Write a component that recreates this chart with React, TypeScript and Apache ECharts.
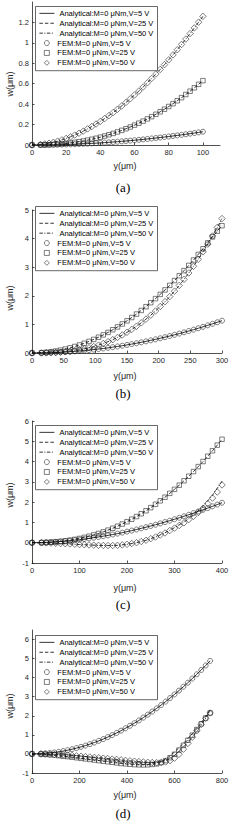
import React, { useEffect, useRef } from 'react';
import * as echarts from 'echarts';

const NAMES = [
  'Analytical:M=0 μNm,V=5 V',
  'Analytical:M=0 μNm,V=25 V',
  'Analytical:M=0 μNm,V=50 V',
  'FEM:M=0 μNm,V=5 V',
  'FEM:M=0 μNm,V=25 V',
  'FEM:M=0 μNm,V=50 V',
];
const TAGS = ['(a)', '(b)', '(c)', '(d)'];

// ---------- panel (a) ----------
const xA = [0,5,7.5,10,12.5,15,17.5,20,22.5,25,27.5,30,32.5,35,37.5,40,42.5,45,47.5,50,52.5,55,57.5,60,62.5,65,67.5,70,72.5,75,77.5,80,82.5,85,87.5,90,92.5,95,97.5,100];
const a5 = [0,0.0003,0.0007,0.0013,0.002,0.0029,0.004,0.0052,0.0066,0.0081,0.0098,0.0117,0.0137,0.0159,0.0183,0.0208,0.0235,0.0263,0.0293,0.0325,0.0358,0.0393,0.043,0.0468,0.0508,0.0549,0.0592,0.0637,0.0683,0.0731,0.0781,0.0832,0.0885,0.0939,0.0995,0.1053,0.1112,0.1173,0.1236,0.13];
const a25 = [0,0.0006,0.0016,0.0032,0.0053,0.008,0.0114,0.0155,0.0204,0.026,0.0324,0.0395,0.0475,0.0563,0.066,0.0766,0.088,0.1004,0.1137,0.1279,0.1431,0.1593,0.1764,0.1946,0.2136,0.234,0.2552,0.2772,0.3007,0.325,0.3504,0.377,0.4048,0.4333,0.4635,0.4945,0.5266,0.56,0.5941,0.63];
const a50 = [0,0.0049,0.0105,0.0178,0.0269,0.0377,0.0501,0.0642,0.0798,0.097,0.1156,0.1358,0.1575,0.1807,0.2053,0.2312,0.2589,0.2877,0.318,0.3496,0.3825,0.417,0.4528,0.4899,0.5281,0.5675,0.6088,0.6513,0.695,0.7398,0.7867,0.8339,0.8823,0.9327,0.9844,1.0372,1.0912,1.1463,1.2026,1.26];

// ---------- panel (b) ----------
const xB = [0,15,22.5,30,37.5,45,52.5,60,67.5,75,82.5,90,97.5,105,112.5,120,127.5,135,142.5,150,157.5,165,172.5,180,187.5,195,202.5,210,217.5,225,232.5,240,247.5,255,262.5,270,277.5,285,292.5,300];
const b5 = [0,0.0028,0.0064,0.0113,0.0177,0.0254,0.0346,0.0452,0.0572,0.0706,0.0855,0.1017,0.1194,0.1384,0.1589,0.1808,0.2041,0.2288,0.255,0.2825,0.3115,0.3418,0.3736,0.4068,0.4414,0.4774,0.5149,0.5537,0.594,0.6356,0.6787,0.7232,0.7691,0.8164,0.8652,0.9153,0.9669,1.0198,1.0742,1.13];
const b25 = [0,0.0113,0.0253,0.045,0.0703,0.1013,0.1378,0.18,0.2278,0.2813,0.3403,0.405,0.4753,0.5513,0.6328,0.72,0.8128,0.9113,1.0153,1.125,1.2403,1.3613,1.4878,1.62,1.7578,1.9013,2.0503,2.205,2.3653,2.5313,2.7028,2.88,3.0628,3.2513,3.4453,3.645,3.85,4.06,4.26,4.45];
const b50 = [0,0.0014,0.0043,0.0094,0.0171,0.028,0.0425,0.0609,0.0838,0.1113,0.144,0.1821,0.226,0.276,0.3327,0.3958,0.4668,0.5442,0.6296,0.7235,0.8254,0.9354,1.0549,1.1832,1.322,1.4684,1.626,1.7952,1.9725,2.1623,2.3626,2.5737,2.7957,3.0319,3.2764,3.5359,3.8074,4.091,4.3914,4.7];

// ---------- panel (c) ----------
const xC = [0,20,30,40,50,60,70,80,90,100,110,120,130,140,150,160,170,180,190,200,210,220,230,240,250,260,270,280,290,300,310,320,330,340,350,360,370,380,390,400];
const c5 = [0,0.0077,0.0164,0.0278,0.0421,0.0589,0.0783,0.1004,0.1248,0.1516,0.1808,0.2123,0.2463,0.2826,0.321,0.3615,0.4048,0.4498,0.4972,0.5466,0.598,0.652,0.708,0.7659,0.8257,0.8873,0.9518,1.0183,1.0866,1.1567,1.23,1.3038,1.3795,1.4583,1.5391,1.6216,1.7061,1.7923,1.8802,1.97];
const c25 = [0,0.0052,0.0132,0.0256,0.0427,0.065,0.0926,0.1259,0.165,0.2104,0.2619,0.3199,0.3846,0.4561,0.5343,0.6202,0.7121,0.8128,0.9206,1.0353,1.1583,1.2897,1.4282,1.5753,1.7292,1.894,2.0658,2.2441,2.4341,2.6306,2.8365,3.0518,3.2768,3.5079,3.7524,4.0029,4.2633,4.5337,4.8093,5.1];
const c50 = [0,-0.005,-0.01,-0.02,-0.03,-0.04,-0.05,-0.06,-0.075,-0.09,-0.1,-0.11,-0.12,-0.13,-0.135,-0.14,-0.14,-0.13,-0.11,-0.08,-0.04,0,0.06,0.12,0.2,0.28,0.38,0.48,0.6,0.72,0.85,0.98,1.14,1.3,1.49,1.7,1.93,2.2,2.5,2.85];
const xCLine = [0,20,40,60,80,100,120,140,160,180,200,220,240,260,280,300,320,340,360,380,400];
const c50Line = [0,-0.005,-0.02,-0.04,-0.06,-0.09,-0.11,-0.13,-0.14,-0.13,-0.08,0,0.12,0.28,0.49,0.74,1.02,1.36,1.79,2.34,3.03];

// ---------- panel (d) ----------
const xD = [0,37.5,56.25,75,93.75,112.5,131.25,150,168.75,187.5,206.25,225,243.75,262.5,281.25,300,318.75,337.5,356.25,375,393.75,412.5,431.25,450,468.75,487.5,506.25,525,543.75,562.5,581.25,600,618.75,637.5,656.25,675,693.75,712.5,731.25,750];
const d5 = [0,0.0122,0.0275,0.0488,0.0763,0.1098,0.1495,0.1952,0.247,0.305,0.369,0.4392,0.5155,0.5978,0.6863,0.7808,0.8815,0.9882,1.101,1.22,1.345,1.4762,1.6134,1.7568,1.9063,2.0618,2.2234,2.3912,2.565,2.745,2.931,3.1232,3.3215,3.5258,3.7363,3.9528,4.1755,4.4042,4.6391,4.88];
const d25 = [0,-0.01,-0.02,-0.04,-0.06,-0.09,-0.12,-0.14,-0.17,-0.2,-0.23,-0.26,-0.29,-0.32,-0.35,-0.38,-0.41,-0.44,-0.47,-0.5,-0.52,-0.54,-0.56,-0.57,-0.575,-0.57,-0.55,-0.52,-0.45,-0.35,-0.2,-0.02,0.2,0.45,0.72,0.98,1.28,1.58,1.88,2.15];
const d50 = [0,0,-0.01,-0.02,-0.03,-0.04,-0.05,-0.06,-0.08,-0.1,-0.12,-0.14,-0.16,-0.18,-0.2,-0.22,-0.24,-0.27,-0.29,-0.31,-0.34,-0.36,-0.38,-0.4,-0.42,-0.44,-0.45,-0.46,-0.45,-0.42,-0.35,-0.22,-0.02,0.25,0.55,0.88,1.22,1.55,1.87,2.15];
const xDLine = [0,50,100,150,200,250,300,350,400,450,500,525,550,575,600,625,650,675,700,725,750];
const d25Line = [0,-0.02,-0.08,-0.14,-0.22,-0.3,-0.38,-0.46,-0.53,-0.57,-0.54,-0.48,-0.36,-0.16,0.1,0.4,0.72,1.06,1.42,1.85,2.3];
const d50Line = [0,-0.01,-0.04,-0.06,-0.11,-0.16,-0.22,-0.28,-0.35,-0.4,-0.45,-0.45,-0.4,-0.28,-0.08,0.2,0.52,0.88,1.28,1.75,2.25];

// axis ranges per panel
const X_MAX = [110, 300, 400, 800];
const X_INT = [20, 50, 100, 200];
const Y_MIN = [0, 0, -1, -1];
const Y_MAX = [1.4, 5, 6, 6.5];
const Y_INT = [0.2, 1, 1, 1];

const PANEL_DATA = [
  { lines: [[xA, a5], [xA, a25], [xA, a50]], fem: [[xA, a5], [xA, a25], [xA, a50]] },
  { lines: [[xB, b5], [xB, b25], [xB, b50]], fem: [[xB, b5], [xB, b25], [xB, b50]] },
  { lines: [[xC, c5], [xC, c25], [xCLine, c50Line]], fem: [[xC, c5], [xC, c25], [xC, c50]] },
  { lines: [[xD, d5], [xDLine, d25Line], [xDLine, d50Line]], fem: [[xD, d5], [xD, d25], [xD, d50]] },
];

// ---------- layout (pixels) ----------
const LAYOUT = [
  { top: 2, height: 143, width: 188, legendTop: 6, wY: 84, yLabY: 166, tagY: 187 },
  { top: 210, height: 143, width: 190, legendTop: 206, wY: 298, yLabY: 376, tagY: 393 },
  { top: 421, height: 142, width: 190, legendTop: 425, wY: 495, yLabY: 588, tagY: 604 },
  { top: 630, height: 143, width: 190, legendTop: 635, wY: 706, yLabY: 795, tagY: 813 },
];
const ROW_H = 9.9;
const BOX_PAD = 2.4;

const FONT = 'Liberation Sans, Arial, Helvetica, sans-serif';
const INK = '#262626';
const LINE_TYPES: any[] = ['solid', [3.5, 2], [3.5, 1.5, 1, 1.5]];
const SYMBOLS = ['circle', 'rect', 'diamond'];
const SYMBOL_SIZES = [5, 4.5, 6.5];
const CLEAR = 'rgba(0,0,0,0)';

function pairs(xs: number[], ys: number[]) {
  return xs.map((x, k) => [x, ys[k]]);
}

function buildOption() {
  const grid: any[] = [];
  const xAxis: any[] = [];
  const yAxis: any[] = [];
  const legend: any[] = [];
  const series: any[] = [];
  const graphic: any[] = [];

  const axisCommon = {
    type: 'value',
    axisLine: { show: true, onZero: false, lineStyle: { color: INK, width: 0.8 } },
    axisTick: { show: true, inside: true, length: 2.5, lineStyle: { color: INK, width: 0.8 } },
    splitLine: { show: false },
  };
  const legendText = { fontSize: 7.5, fontFamily: FONT, color: '#000', lineHeight: ROW_H };

  for (let i = 0; i < 4; i++) {
    const L = LAYOUT[i];
    grid.push({ left: 32, top: L.top, width: L.width, height: L.height, containLabel: false, outerBoundsMode: 'none' });
    xAxis.push({
      ...axisCommon,
      gridIndex: i,
      min: 0,
      max: X_MAX[i],
      interval: X_INT[i],
      axisLabel: { fontSize: 7.5, color: INK, fontFamily: FONT, margin: 3.5, showMinLabel: true, showMaxLabel: X_MAX[i] % X_INT[i] === 0 },
    });
    yAxis.push({
      ...axisCommon,
      gridIndex: i,
      min: Y_MIN[i],
      max: Y_MAX[i],
      interval: Y_INT[i],
      axisLabel: { fontSize: 7.5, color: INK, fontFamily: FONT, margin: 3, showMinLabel: true, showMaxLabel: i === 1 || i === 2 },
    });

    // legend box
    graphic.push({
      type: 'rect',
      z: 15,
      shape: { x: 35.5, y: L.legendTop + 0.5, width: 122, height: 6 * ROW_H + 2 * BOX_PAD },
      style: { fill: '#fff', stroke: INK, lineWidth: 0.7 },
    });
    // analytical rows
    legend.push({
      data: NAMES.slice(0, 3).map((n) => ({ name: n, itemStyle: { color: CLEAR, borderWidth: 0, opacity: 0 } })),
      orient: 'vertical',
      left: 35,
      top: L.legendTop,
      itemWidth: 15,
      itemHeight: 5,
      itemGap: 0,
      padding: [BOX_PAD, 0, 0, 4],
      selectedMode: false,
      z: 20,
      lineStyle: { width: 0.8 },
      textStyle: legendText,
    });
    // FEM rows
    legend.push({
      data: NAMES.slice(3),
      orient: 'vertical',
      left: 44,
      top: L.legendTop + BOX_PAD + 3 * ROW_H,
      itemWidth: 5,
      itemHeight: 5,
      itemGap: 0,
      padding: 0,
      selectedMode: false,
      z: 20,
      itemStyle: { borderWidth: 0.7 },
      textStyle: { ...legendText, padding: [0, 0, 0, 3] },
    });

    const P = PANEL_DATA[i];
    for (let s = 0; s < 3; s++) {
      series.push({
        type: 'line',
        name: NAMES[s],
        xAxisIndex: i,
        yAxisIndex: i,
        data: pairs(P.lines[s][0], P.lines[s][1]),
        symbol: 'none',
        showSymbol: false,
        lineStyle: { color: '#000', width: 0.8, type: LINE_TYPES[s] },
        itemStyle: { color: CLEAR },
        z: 2,
      });
    }
    for (let s = 0; s < 3; s++) {
      series.push({
        type: 'scatter',
        name: NAMES[s + 3],
        xAxisIndex: i,
        yAxisIndex: i,
        data: pairs(P.fem[s][0], P.fem[s][1]),
        symbol: SYMBOLS[s],
        symbolSize: SYMBOL_SIZES[s],
        itemStyle: { color: CLEAR, borderColor: '#1a1a1a', borderWidth: 0.7 },
        z: 3,
      });
    }

    graphic.push({
      type: 'text',
      x: 10,
      y: L.wY,
      rotation: Math.PI / 2,
      style: { text: 'w(μm)', fontSize: 9, fontFamily: FONT, fill: INK, textAlign: 'center', textVerticalAlign: 'middle' },
    });
    graphic.push({
      type: 'text',
      x: 125,
      y: L.yLabY,
      style: { text: 'y(μm)', fontSize: 9, fontFamily: FONT, fill: INK, textAlign: 'center', textVerticalAlign: 'middle' },
    });
    graphic.push({
      type: 'text',
      x: 123,
      y: L.tagY,
      style: { text: TAGS[i], fontSize: 13, fontFamily: 'Liberation Serif, DejaVu Serif, serif', fill: '#000', textAlign: 'center', textVerticalAlign: 'middle' },
    });
  }

  return {
    animation: false,
    backgroundColor: '#fff',
    grid,
    xAxis,
    yAxis,
    legend,
    series,
    graphic,
  };
}

export default function App() {
  const ref = useRef<HTMLDivElement>(null);
  useEffect(() => {
    document.body.style.margin = '0';
    const chart = echarts.init(ref.current!, null, { renderer: 'svg' });
    chart.setOption(buildOption() as any);
    return () => chart.dispose();
  }, []);
  return <div ref={ref} style={{ position: 'absolute', left: 0, top: 0, width: 244, height: 822 }} />;
}
